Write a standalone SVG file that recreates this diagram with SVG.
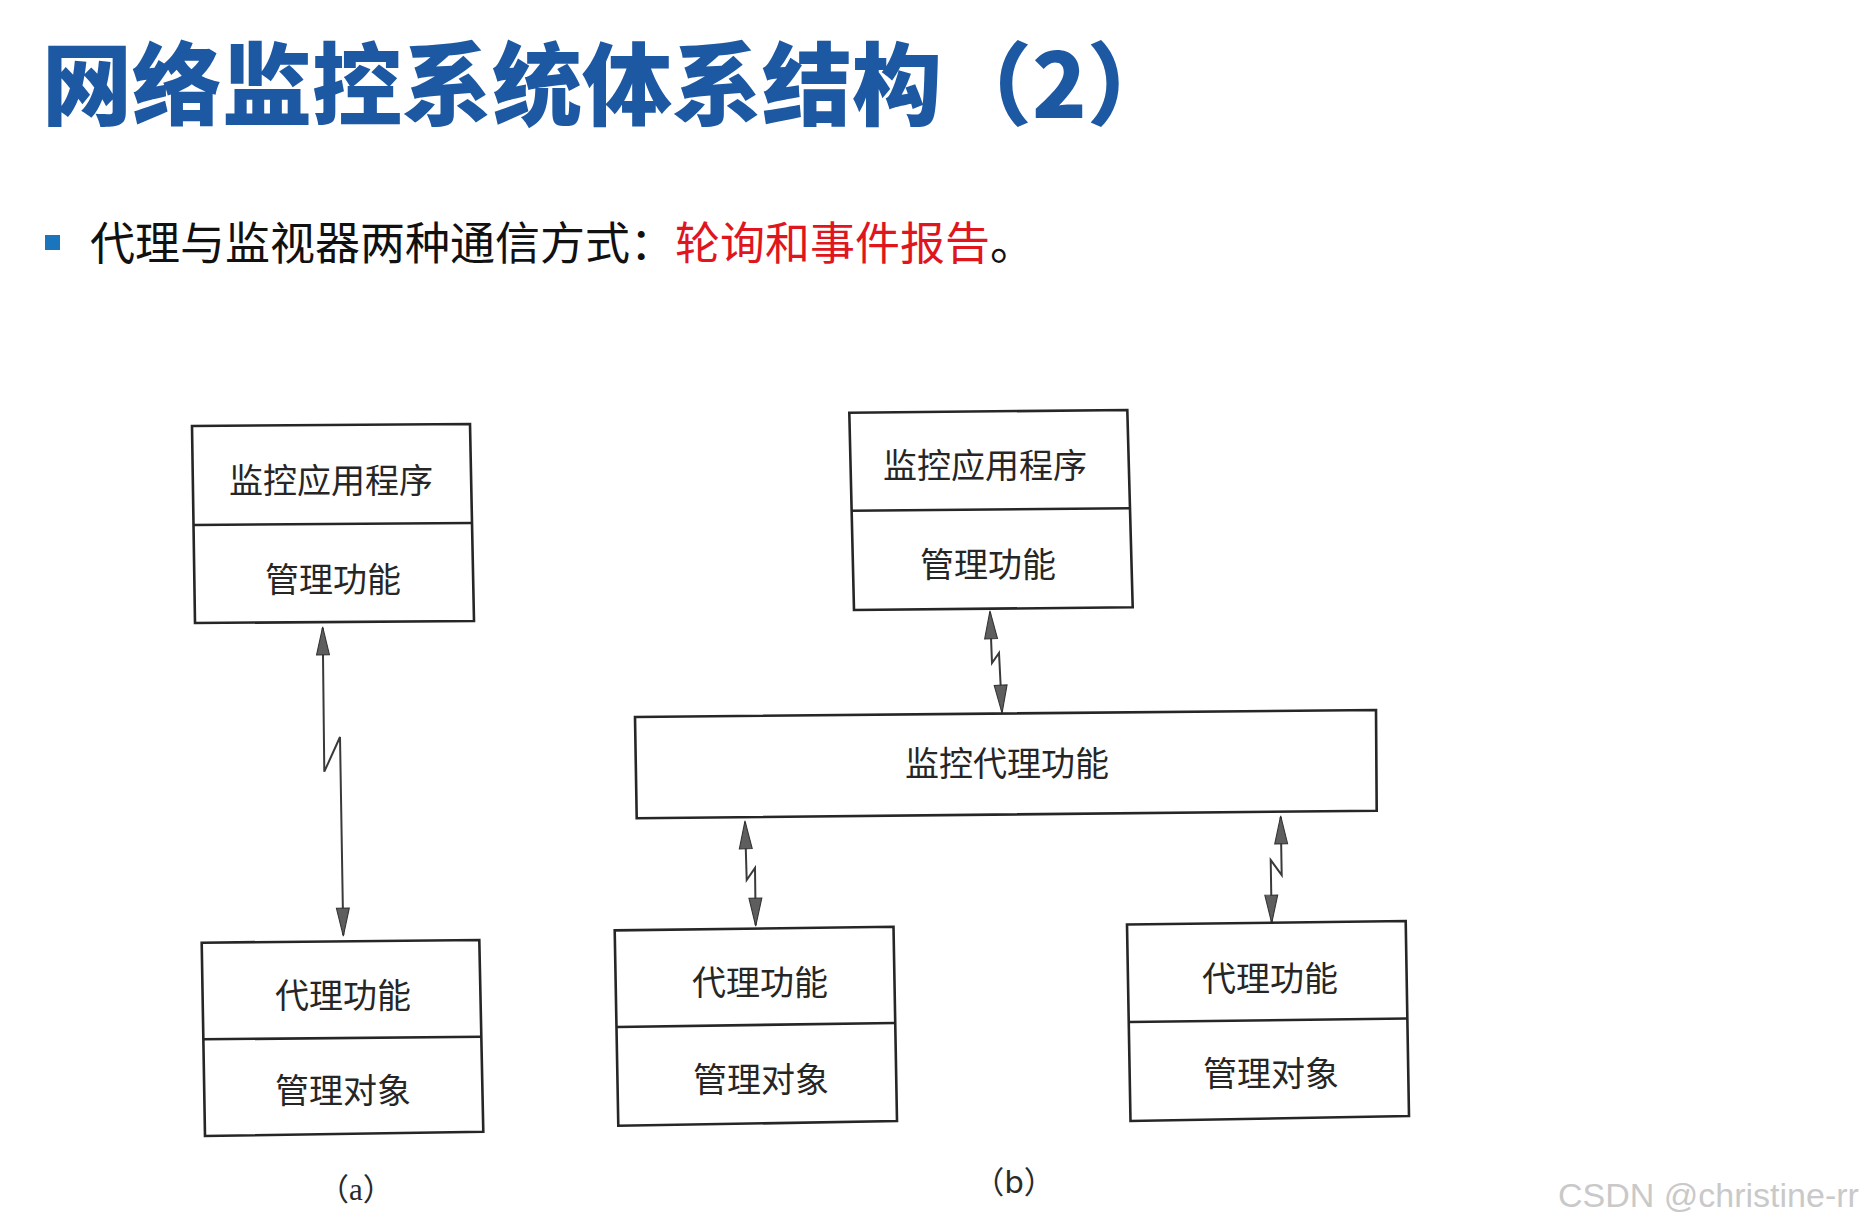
<svg xmlns="http://www.w3.org/2000/svg" width="1868" height="1228" viewBox="0 0 1868 1228">
<defs>
<style>
.box{fill:#ffffff;stroke:#262626;stroke-width:2.6;stroke-linejoin:miter}
.div{fill:none;stroke:#262626;stroke-width:2.6}
.lbl{font-family:"Noto Sans CJK SC","Noto Sans CJK JP",sans-serif;font-size:34px;fill:#262626;text-anchor:middle;dominant-baseline:central}
.wire{fill:none;stroke:#3a3a3a;stroke-width:2;stroke-linejoin:miter;marker-start:url(#ah);marker-end:url(#ah)}
.cap{font-size:31px;fill:#2a2a2a;text-anchor:middle;dominant-baseline:central}
</style>
<marker id="ah" markerUnits="userSpaceOnUse" markerWidth="30" markerHeight="16" viewBox="-1 -1 28 14" refX="25" refY="6" orient="auto-start-reverse" overflow="visible">
<path d="M0,0 L26,6 L0,12 Z" fill="#5e5e5e" stroke="#333333" stroke-width="1"/>
</marker>
</defs>
<rect x="0" y="0" width="1868" height="1228" fill="#ffffff"/>

<g id="title">
<text x="42" y="79" font-family="Noto Sans CJK SC, sans-serif" font-size="90" font-weight="900" fill="#1d58a3" dominant-baseline="central">网络监控系统体系结构（2）</text>
</g>

<g id="bullet">
<rect x="45" y="235" width="15" height="15" fill="#1b75bc"/>
<text x="90" y="240" font-family="Noto Sans CJK SC, sans-serif" font-size="45" fill="#111111" dominant-baseline="central">代理与监视器两种通信方式：<tspan fill="#e0161e">轮询和事件报告</tspan>。</text>
</g>

<g id="connectors">
<polyline class="wire" points="322.7,628 324.3,771.7 340,737 343.3,935"/>
<polyline class="wire" points="990,612 992,663 999,653 1002,712"/>
<polyline class="wire" points="745,822 746.7,880 755,868 755.7,925"/>
<polyline class="wire" points="1280.7,817 1281.7,875 1270.7,860 1271.7,922"/>
</g>

<g id="a-manager">
<path class="box" d="M192,426 L470,424 L474,621 L195,623 Z"/>
<path class="div" d="M193.5,525 L472,523"/>
<text class="lbl" x="331" y="478">监控应用程序</text>
<text class="lbl" x="333" y="577">管理功能</text>
</g>

<g id="a-agent">
<path class="box" d="M201.7,942.7 L479.3,940 L483.3,1131.7 L205,1136 Z"/>
<path class="div" d="M203.5,1039.3 L481.3,1036.7"/>
<text class="lbl" x="343" y="993">代理功能</text>
<text class="lbl" x="343" y="1088">管理对象</text>
</g>

<g id="a-caption">
<text class="cap" x="356" y="1189" font-family="Liberation Serif, Noto Sans CJK SC, serif">（a）</text>
</g>

<g id="b-manager">
<path class="box" d="M849.3,412.7 L1127.3,410 L1132.7,607.3 L854,610 Z"/>
<path class="div" d="M851.5,510.7 L1130,508.3"/>
<text class="lbl" x="985" y="463">监控应用程序</text>
<text class="lbl" x="988" y="562">管理功能</text>
</g>

<g id="b-monitor-agent">
<path class="box" d="M635,717 L1376,710 L1376.7,810.7 L636.7,818.3 Z"/>
<text class="lbl" x="1007" y="761">监控代理功能</text>
</g>

<g id="b-agent-left">
<path class="box" d="M614.7,930.4 L893.5,926.8 L897,1121 L618.3,1125.8 Z"/>
<path class="div" d="M617,1027 L894.7,1023"/>
<text class="lbl" x="760" y="980">代理功能</text>
<text class="lbl" x="761" y="1077">管理对象</text>
</g>

<g id="b-agent-right">
<path class="box" d="M1127,924.5 L1405.7,921 L1409,1116 L1130.5,1121 Z"/>
<path class="div" d="M1129.4,1022 L1407,1018.5"/>
<text class="lbl" x="1270" y="976">代理功能</text>
<text class="lbl" x="1271" y="1071">管理对象</text>
</g>

<g id="b-caption">
<text class="cap" x="1014" y="1182" font-family="DejaVu Sans, Noto Sans CJK SC, sans-serif">（b）</text>
</g>

<g id="watermark">
<text x="1558" y="1207" font-family="Liberation Sans, Arial, sans-serif" font-size="34" fill="#c9c9c9">CSDN @christine-rr</text>
</g>
</svg>
